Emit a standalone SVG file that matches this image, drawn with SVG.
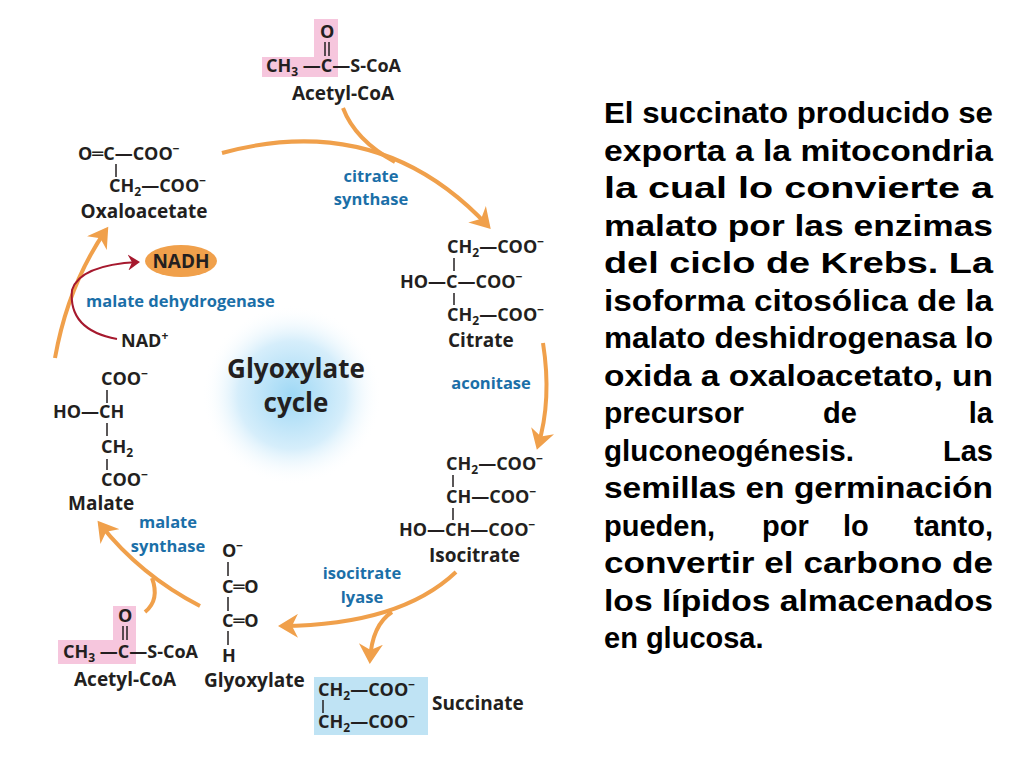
<svg xmlns="http://www.w3.org/2000/svg" width="1024" height="768" viewBox="0 0 1024 768">
<defs>
<marker id="ao" markerWidth="6" markerHeight="6" refX="4" refY="3" orient="auto" markerUnits="strokeWidth"><path d="M0,0 L5,3 L0,6 L1.5,3 Z" fill="#f0a04b"/></marker>
<marker id="ar" markerWidth="8" markerHeight="8" refX="5" refY="4" orient="auto" markerUnits="strokeWidth"><path d="M0,0 L6,4 L0,8 L2,4 Z" fill="#a6192e"/></marker>
<radialGradient id="glow"><stop offset="0" stop-color="#9fd8f5"/><stop offset="0.6" stop-color="#d6eefb"/><stop offset="1" stop-color="#ffffff" stop-opacity="0"/></radialGradient>
<style>
text{font-family:"Open Sans","DejaVu Sans",sans-serif;font-weight:bold;fill:#231f20}
.f{font-size:18px}
.n{font-size:19px}
.e{font-size:16.5px;fill:#1b6fa8}
.s{font-size:12px}
.t{font-family:"Liberation Sans",Arial,sans-serif;font-size:29px;fill:#000}
.o{fill:none;stroke:#f0a04b;stroke-width:4;marker-end:url(#ao)}
.b{fill:none;stroke:#f0a04b;stroke-width:4}
.l{stroke:#231f20;stroke-width:1.5}
</style>
</defs>
<rect width="1024" height="768" fill="#fff"/>
<g id="title"><circle cx="292" cy="395" r="90" fill="url(#glow)"/>
<text x="296" y="378" text-anchor="middle" font-size="26">Glyoxylate</text>
<text x="296" y="412" text-anchor="middle" font-size="26">cycle</text></g>
<g id="connectors">
<path class="o" d="M222,153 Q380,110 488,226"/>
<path class="b" d="M343,108 Q355,140 395,162"/>
<path class="o" d="M543,343 Q552,400 538,446"/>
<path class="o" d="M456,572 Q400,625 282,626"/>
<path class="o" d="M392,612 Q372,625 370,660"/>
<path class="o" d="M200,606 Q140,575 100,524"/>
<path class="b" d="M145,612 Q160,600 152,578"/>
<path class="o" d="M55,358 Q68,285 106,230"/>
<path d="M117,339 Q68,330 72,290 Q80,265 138,262" fill="none" stroke="#a6192e" stroke-width="2" marker-end="url(#ar)"/>
</g>
<g id="acetylcoa-top">
<path d="M314,19 H338 V77 H262 V57 H314 Z" fill="#f6c6dd"/>
<text class="f" x="320" y="38">O</text>
<line class="l" x1="325" y1="42" x2="325" y2="56"/><line class="l" x1="329" y1="42" x2="329" y2="56"/>
<text class="f" x="266" y="72">CH<tspan class="s" dy="4">3</tspan><tspan dy="-4"> —C—S-CoA</tspan></text>
<text class="n" x="343" y="100" text-anchor="middle">Acetyl-CoA</text>
</g>
<g id="oxaloacetate">
<text class="f" x="78" y="160">O═C—COO<tspan class="s" dy="-7">−</tspan></text>
<line class="l" x1="116" y1="164" x2="116" y2="177"/>
<text class="f" x="109" y="192">CH<tspan class="s" dy="4">2</tspan><tspan dy="-4">—COO</tspan><tspan class="s" dy="-7">−</tspan></text>
<text class="n" x="144" y="218" text-anchor="middle">Oxaloacetate</text>
</g>
<g id="enzymes">
<text class="e" x="371" y="182" text-anchor="middle">citrate</text>
<text class="e" x="371" y="205" text-anchor="middle">synthase</text>
<text class="e" x="86" y="307">malate dehydrogenase</text>
<text class="e" x="491" y="389" text-anchor="middle">aconitase</text>
<text class="e" x="168" y="528" text-anchor="middle">malate</text>
<text class="e" x="168" y="552" text-anchor="middle">synthase</text>
<text class="e" x="362" y="579" text-anchor="middle">isocitrate</text>
<text class="e" x="362" y="603" text-anchor="middle">lyase</text>
</g>
<g id="nadh"><ellipse cx="181" cy="261" rx="36" ry="16" fill="#f0a04b"/>
<text class="n" x="181" y="268" text-anchor="middle">NADH</text></g>
<g id="nad"><text class="f" x="121" y="347">NAD<tspan class="s" dy="-7">+</tspan></text></g>
<g id="citrate">
<text class="f" x="447" y="253">CH<tspan class="s" dy="4">2</tspan><tspan dy="-4">—COO</tspan><tspan class="s" dy="-7">−</tspan></text>
<line class="l" x1="454" y1="258" x2="454" y2="271"/>
<text class="f" x="400" y="288">HO—C—COO<tspan class="s" dy="-7">−</tspan></text>
<line class="l" x1="454" y1="293" x2="454" y2="305"/>
<text class="f" x="447" y="321">CH<tspan class="s" dy="4">2</tspan><tspan dy="-4">—COO</tspan><tspan class="s" dy="-7">−</tspan></text>
<text class="n" x="448" y="347">Citrate</text>
</g>
<g id="isocitrate">
<text class="f" x="446" y="470">CH<tspan class="s" dy="4">2</tspan><tspan dy="-4">—COO</tspan><tspan class="s" dy="-7">−</tspan></text>
<line class="l" x1="453" y1="475" x2="453" y2="487"/>
<text class="f" x="446" y="503">CH—COO<tspan class="s" dy="-7">−</tspan></text>
<line class="l" x1="453" y1="508" x2="453" y2="520"/>
<text class="f" x="399" y="536">HO—CH—COO<tspan class="s" dy="-7">−</tspan></text>
<text class="n" x="429" y="562">Isocitrate</text>
</g>
<g id="succinate">
<rect x="314" y="677" width="114" height="58" fill="#bfe3f4"/>
<text class="f" x="318" y="696">CH<tspan class="s" dy="4">2</tspan><tspan dy="-4">—COO</tspan><tspan class="s" dy="-7">−</tspan></text>
<line class="l" x1="323" y1="700" x2="323" y2="713"/>
<text class="f" x="318" y="728">CH<tspan class="s" dy="4">2</tspan><tspan dy="-4">—COO</tspan><tspan class="s" dy="-7">−</tspan></text>
<text class="n" x="432" y="710">Succinate</text>
</g>
<g id="glyoxylate">
<text class="f" x="222" y="557">O<tspan class="s" dy="-7">−</tspan></text>
<line class="l" x1="228" y1="562" x2="228" y2="576"/>
<text class="f" x="222" y="593">C═O</text>
<line class="l" x1="228" y1="597" x2="228" y2="611"/>
<text class="f" x="222" y="627">C═O</text>
<line class="l" x1="228" y1="631" x2="228" y2="645"/>
<text class="f" x="222" y="662">H</text>
<text class="n" x="204" y="687">Glyoxylate</text>
</g>
<g id="acetylcoa-bottom">
<path d="M113,606 H136 V664 H58 V640 H113 Z" fill="#f6c6dd"/>
<text class="f" x="118" y="622">O</text>
<line class="l" x1="123" y1="626" x2="123" y2="640"/><line class="l" x1="127" y1="626" x2="127" y2="640"/>
<text class="f" x="63" y="658">CH<tspan class="s" dy="4">3</tspan><tspan dy="-4"> —C—S-CoA</tspan></text>
<text class="n" x="74" y="686">Acetyl-CoA</text>
</g>
<g id="malate">
<text class="f" x="101" y="385">COO<tspan class="s" dy="-7">−</tspan></text>
<line class="l" x1="107" y1="390" x2="107" y2="403"/>
<text class="f" x="53" y="418">HO—CH</text>
<line class="l" x1="107" y1="423" x2="107" y2="436"/>
<text class="f" x="101" y="453">CH<tspan class="s" dy="4">2</tspan></text>
<line class="l" x1="107" y1="459" x2="107" y2="470"/>
<text class="f" x="101" y="486">COO<tspan class="s" dy="-7">−</tspan></text>
<text class="n" x="68" y="510">Malate</text>
</g>
<g id="paragraph">
<text class="t" x="604" y="123" textLength="389" lengthAdjust="spacingAndGlyphs">El succinato producido se</text>
<text class="t" x="604" y="160.5" textLength="389" lengthAdjust="spacingAndGlyphs">exporta a la mitocondria</text>
<text class="t" x="604" y="198" textLength="389" lengthAdjust="spacingAndGlyphs">la cual lo convierte a</text>
<text class="t" x="604" y="235.5" textLength="389" lengthAdjust="spacingAndGlyphs">malato por las enzimas</text>
<text class="t" x="604" y="273" textLength="389" lengthAdjust="spacingAndGlyphs">del ciclo de Krebs. La</text>
<text class="t" x="604" y="310.5" textLength="389" lengthAdjust="spacingAndGlyphs">isoforma citosólica de la</text>
<text class="t" x="604" y="348" textLength="389" lengthAdjust="spacingAndGlyphs">malato deshidrogenasa lo</text>
<text class="t" x="604" y="385.5" textLength="389" lengthAdjust="spacingAndGlyphs">oxida a oxaloacetato, un</text>
<text class="t" x="604" y="423" textLength="140" lengthAdjust="spacingAndGlyphs">precursor</text><text class="t" x="840" y="423" text-anchor="middle">de</text><text class="t" x="993" y="423" text-anchor="end">la</text>
<text class="t" x="604" y="460.5" textLength="250" lengthAdjust="spacingAndGlyphs">gluconeogénesis.</text><text class="t" x="993" y="460.5" text-anchor="end">Las</text>
<text class="t" x="604" y="498" textLength="389" lengthAdjust="spacingAndGlyphs">semillas en germinación</text>
<text class="t" x="604" y="535.5">pueden,</text><text class="t" x="762" y="535.5">por</text><text class="t" x="843" y="535.5">lo</text><text class="t" x="993" y="535.5" text-anchor="end">tanto,</text>
<text class="t" x="604" y="573" textLength="389" lengthAdjust="spacingAndGlyphs">convertir el carbono de</text>
<text class="t" x="604" y="610.5" textLength="389" lengthAdjust="spacingAndGlyphs">los lípidos almacenados</text>
<text class="t" x="604" y="648">en glucosa.</text>
</g>
</svg>
